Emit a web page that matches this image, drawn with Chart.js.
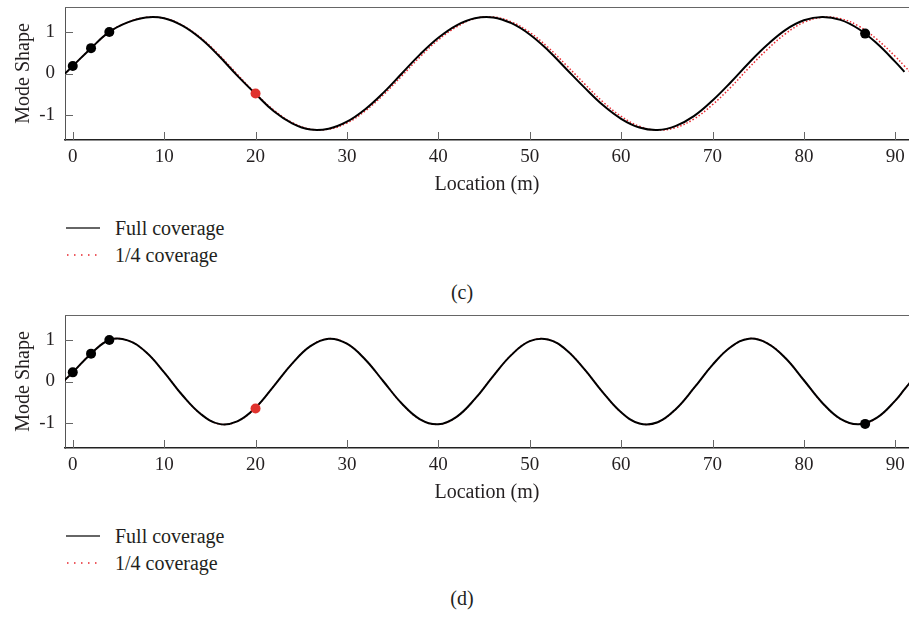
<!DOCTYPE html>
<html>
<head>
<meta charset="utf-8">
<script src="https://cdn.jsdelivr.net/npm/chart.js@4.4.1/dist/chart.umd.min.js"></script>
<style>
  body { margin: 0; background: #fff; }
  #page { position: relative; width: 909px; height: 618px; overflow: hidden; background: #fff;
          font-family: 'Liberation Serif', serif; color: #231f20; }
  canvas { position: absolute; left: 0; display: block; }
  .row { position: absolute; left: 66px; height: 24px; line-height: 24px; font-size: 20px;
         white-space: nowrap; display: flex; align-items: center; }
  .row svg { margin-right: 15px; }
  .caption { position: absolute; left: 462px; transform: translateX(-50%); font-size: 20px; line-height: 24px; }
</style>
</head>
<body>
<div id="page">
  <canvas id="chartC" width="909" height="200" style="top:0px"></canvas>
  <div class="row" style="top:216px"><svg width="34" height="6"><line x1="0" y1="3" x2="34" y2="3" stroke="#333" stroke-width="1.5"/></svg>Full coverage</div>
  <div class="row" style="top:243px"><svg width="34" height="6"><line x1="1" y1="3" x2="34" y2="3" stroke="#e8262d" stroke-width="1.5" stroke-dasharray="1.5 5.5"/></svg>1/4 coverage</div>
  <div class="caption" style="top:280px">(c)</div>

  <canvas id="chartD" width="909" height="200" style="top:308px"></canvas>
  <div class="row" style="top:524px"><svg width="34" height="6"><line x1="0" y1="3" x2="34" y2="3" stroke="#333" stroke-width="1.5"/></svg>Full coverage</div>
  <div class="row" style="top:551px"><svg width="34" height="6"><line x1="1" y1="3" x2="34" y2="3" stroke="#e8262d" stroke-width="1.5" stroke-dasharray="1.5 5.5"/></svg>1/4 coverage</div>
  <div class="caption" style="top:586px">(d)</div>
</div>
<script>
// AXIS TICKS
const xTicks = [0, 10, 20, 30, 40, 50, 60, 70, 80, 90];
const yTicks = [-1, 0, 1];

// LOCATIONS (m) shared by both panels
const loc = [-2, 0, 2, 4, 6, 8, 10, 12, 14, 16, 18, 20, 22, 24, 26, 28, 30, 32, 34, 36, 38, 40,
  42, 44, 46, 48, 50, 52, 54, 56, 58, 60, 62, 64, 66, 68, 70, 72, 74, 76, 78, 80, 82, 84, 86, 88, 90, 91, 92];

// PANEL (c)
const fullC = [-0.25, 0.18, 0.61, 1.00, 1.23, 1.35, 1.33, 1.15, 0.84, 0.42, -0.05, -0.49, -0.91, -1.20, -1.35,
  -1.33, -1.16, -0.86, -0.46, 0.00, 0.46, 0.86, 1.16, 1.33, 1.35, 1.21, 0.94, 0.56, 0.11, -0.34, -0.76,
  -1.09, -1.30, -1.36, -1.26, -1.02, -0.65, -0.21, 0.26, 0.69, 1.05, 1.28, 1.36, 1.29, 1.07, 0.72, 0.28, 0.04, null];
const quarterC = [-0.25, 0.18, 0.61, 1.00, 1.23, 1.35, 1.33, 1.16, 0.86, 0.45, -0.02, -0.48, -0.88, -1.18, -1.34,
  -1.34, -1.19, -0.90, -0.51, -0.06, 0.40, 0.81, 1.12, 1.32, 1.36, 1.24, 0.99, 0.63, 0.20, -0.25, -0.68,
  -1.03, -1.27, -1.36, -1.30, -1.09, -0.75, -0.33, 0.14, 0.58, 0.96, 1.23, 1.35, 1.32, 1.14, 0.82, 0.41, 0.18, -0.05];

// PANEL (d)
const fullD = [-0.20, 0.22, 0.67, 1.00, 0.99, 0.71, 0.22, -0.33, -0.78, -1.02, -0.96, -0.63, -0.11, 0.43, 0.85,
  1.03, 0.91, 0.53, 0.00, -0.53, -0.91, -1.03, -0.85, -0.42, 0.13, 0.64, 0.97, 1.01, 0.76, 0.29, -0.26,
  -0.74, -1.01, -0.98, -0.66, -0.15, 0.40, 0.83, 1.03, 0.92, 0.56, 0.03, -0.51, -0.90, -1.03, -0.87, -0.46, -0.19, 0.08];
const quarterD = [-0.20, 0.22, 0.67, 1.00, 0.99, 0.71, 0.22, -0.33, -0.78, -1.02, -0.96, -0.63, -0.11, 0.43, 0.85,
  1.03, 0.91, 0.53, 0.00, -0.53, -0.91, -1.03, -0.85, -0.42, 0.13, 0.64, 0.97, 1.01, 0.76, 0.29, -0.26,
  -0.74, -1.01, -0.98, -0.66, -0.15, 0.40, 0.83, 1.03, 0.92, 0.56, 0.03, -0.51, -0.90, -1.03, -0.87, -0.46, -0.19, 0.08];

// SENSOR MARKERS
const sensorLoc = [0, 2, 4, 86.7];
const sensorC = [0.18, 0.61, 1.00, 0.96];
const sensorD = [0.22, 0.67, 1.00, -1.02];
const redLoc = [20];
const redC = [-0.48];
const redD = [-0.65];

Chart.defaults.font.family = "'Liberation Serif', serif";
Chart.defaults.color = '#231f20';

const toXY = (xs, ys) => xs.map((x, i) => ({ x: x, y: ys[i] }));

// top frame line + tick marks pointing into the plot
const framePlugin = {
  id: 'frame',
  afterDraw(chart) {
    const { ctx, chartArea: a, scales } = chart;
    ctx.save();
    ctx.strokeStyle = '#666';
    ctx.lineWidth = 1;
    ctx.beginPath();
    ctx.moveTo(a.left, a.top + 0.5);
    ctx.lineTo(a.right, a.top + 0.5);
    scales.x.ticks.forEach((t) => {
      const px = Math.round(scales.x.getPixelForValue(t.value)) + 0.5;
      ctx.moveTo(px, a.bottom);
      ctx.lineTo(px, a.bottom - 8);
    });
    scales.y.ticks.forEach((t) => {
      const py = Math.round(scales.y.getPixelForValue(t.value)) + 0.5;
      ctx.moveTo(a.left, py);
      ctx.lineTo(a.left + 8, py);
    });
    ctx.stroke();
    ctx.restore();
  },
};

const makeChart = (id, full, quarter, sensorY, redY) => new Chart(id, {
  type: 'line',
  data: {
    datasets: [
      { label: 'sensors', data: toXY(sensorLoc, sensorY), showLine: false, pointRadius: 5,
        backgroundColor: '#000', borderColor: '#000', pointBorderWidth: 0 },
      { label: 'sensor 20', data: toXY(redLoc, redY), showLine: false, pointRadius: 5,
        backgroundColor: '#e0332e', borderColor: '#e0332e', pointBorderWidth: 0 },
      { label: 'Full coverage', data: toXY(loc, full), borderColor: '#000', borderWidth: 2,
        pointRadius: 0, tension: 0.4 },
      { label: '1/4 coverage', data: toXY(loc, quarter), borderColor: '#e8262d', borderWidth: 1.5,
        borderDash: [1.5, 2], pointRadius: 0, tension: 0.4 },
    ],
  },
  options: {
    responsive: false,
    animation: false,
    layout: { autoPadding: false, padding: { top: 7, left: 0, right: 0, bottom: 0 } },
    plugins: { legend: { display: false }, tooltip: { enabled: false } },
    scales: {
      x: {
        type: 'linear',
        min: -0.85,
        max: 91.5,
        afterBuildTicks: (s) => { s.ticks = xTicks.map((v) => ({ value: v })); },
        afterFit: (s) => { s.height = 60; s.paddingLeft = 0; s.paddingRight = 0; },
        grid: { display: false, drawTicks: false },
        border: { display: true, color: '#222', width: 1.5 },
        ticks: { padding: 6, font: { size: 19 }, callback: (v) => String(v) },
        title: { display: true, text: 'Location (m)', font: { size: 20 }, padding: { top: 0, bottom: 3 } },
      },
      y: {
        min: -1.6,
        max: 1.6,
        afterBuildTicks: (s) => { s.ticks = yTicks.map((v) => ({ value: v })); },
        afterFit: (s) => { s.width = 65; s.paddingTop = 0; s.paddingBottom = 0; },
        grid: { display: false, drawTicks: false },
        border: { display: true, color: '#555', width: 1 },
        ticks: { padding: 10, font: { size: 19 }, callback: (v) => String(v) },
        title: { display: true, text: 'Mode Shape', font: { size: 20 }, padding: { top: 12, bottom: 0 } },
      },
    },
  },
  plugins: [framePlugin],
});

const chartC = makeChart('chartC', fullC, quarterC, sensorC, redC);
const chartD = makeChart('chartD', fullD, quarterD, sensorD, redD);
</script>
</body>
</html>
